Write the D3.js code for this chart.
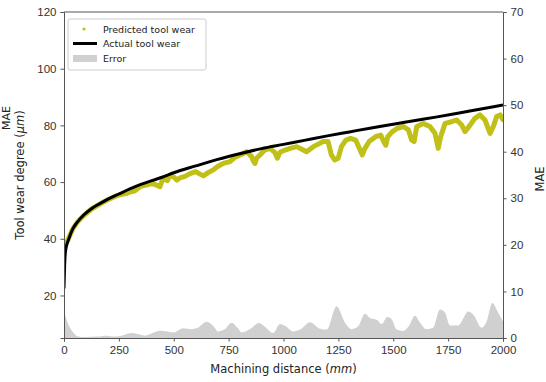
<!DOCTYPE html>
<html>
<head>
<meta charset="utf-8">
<script src="https://cdn.jsdelivr.net/npm/d3@7"></script>
<style>
  html, body { margin: 0; padding: 0; background: #fff; }
  svg { display: block; font-family: "DejaVu Sans", sans-serif; }
  .tick text { fill: #333; }
</style>
</head>
<body>
<svg id="chart" width="546" height="382"></svg>
<script>
// Actual tool wear (µm) against machining distance (mm)
const actualDist = [0, 3, 6, 10, 20, 40, 60, 90, 125, 165, 200, 250, 300, 350, 400, 450, 500,
  600, 700, 800, 900, 1000, 1100, 1200, 1300, 1400, 1500, 1600, 1700, 1800, 1900, 2000];
const actualWear = [22.5, 31, 35, 37, 39.6, 43.5, 45.8, 48.4, 50.6, 52.5, 54, 55.8, 57.6, 59.2, 60.5, 61.8, 63.3,
  65.7, 68, 70, 71.8, 73.3, 74.8, 76.3, 77.7, 79.1, 80.4, 81.7, 83, 84.4, 85.8, 87.2];

// Predicted tool wear (µm)
const predDist = [0, 5, 10, 20, 40, 60, 90, 125, 165, 200, 240, 270, 285, 300, 320, 350, 378, 400, 420, 437,
  451, 470, 483, 500, 515, 528, 551, 574, 600, 620, 635, 660, 680, 700, 726, 756, 780, 802, 820, 832,
  855, 862, 870, 878, 893, 915, 938, 960, 972, 984, 1007, 1030, 1060, 1090, 1105, 1136, 1181, 1203, 1218, 1233,
  1249, 1264, 1284, 1306, 1329, 1345, 1359, 1371, 1390, 1420, 1443, 1455, 1466, 1475, 1496, 1519, 1546, 1569, 1584, 1595,
  1607, 1637, 1667, 1690, 1705, 1716, 1736, 1766, 1789, 1812, 1827, 1850, 1872, 1895, 1918, 1941, 1956, 1971, 1987, 2000];
const predWear = [37.5, 38, 38.5, 40, 43.5, 45.8, 48.2, 50.5, 52.3, 53.8, 55.2, 55.8, 56, 56.5, 56.8, 58.5, 59, 59.5, 59, 58.4,
  61.3, 60.5, 62.3, 61.8, 60.7, 61.5, 62, 63, 63.7, 62.8, 62.2, 63.5, 64.3, 65.5, 66.6, 67.2, 68.8, 69.6, 70.2, 70.7,
  69, 67.5, 66.6, 68.5, 69.6, 71.3, 71.9, 70.5, 68.4, 70.5, 71.3, 71.9, 72.5, 71.3, 70.7, 72.5, 74.3, 74.3, 69.6, 67.8,
  68.4, 72.5, 74.8, 75.4, 74.8, 72, 69.6, 71.9, 74.3, 76, 76.6, 74.5, 73, 76, 77.8, 79, 79.6, 78.4, 74.8, 74.3,
  79.6, 80.7, 79.6, 77.2, 71.9, 76, 80.7, 81.3, 81.9, 80.1, 77.8, 80.1, 82.5, 83.7, 81.9, 77.2, 79.6, 83.1, 83.7, 82];

// Error (MAE) along machining distance
const errDist = [0, 5, 15, 30, 45, 60, 100, 150, 194, 230, 270, 308, 340, 370, 400, 437, 470, 500, 543, 580,
  610, 650, 680, 703, 730, 764, 790, 810, 850, 888, 920, 953, 984, 1010, 1044, 1075, 1121, 1166, 1197, 1242,
  1280, 1311, 1340, 1371, 1394, 1425, 1447, 1473, 1493, 1515, 1545, 1570, 1599, 1622, 1652, 1682, 1713, 1736, 1758, 1796,
  1842, 1865, 1903, 1926, 1951, 1978, 2000];
const errMAE = [5.7, 5, 3.5, 2, 1, 0.4, 0.2, 0.3, 0.5, 0.3, 0.6, 1.07, 0.8, 0.5, 1.0, 1.57, 1.4, 1.2, 2.1, 1.9,
  2.2, 3.5, 2.6, 1.4, 1.8, 3.3, 2.2, 1.2, 2.0, 3.2, 2.2, 1.07, 3.0, 2.5, 1.4, 1.8, 3.4, 2.0, 1.8, 6.8,
  3.3, 1.9, 2.5, 5.2, 4.3, 3.9, 3.0, 4.5, 4.0, 1.8, 1.5, 2.5, 4.8, 3.3, 1.9, 2.2, 6.1, 5.4, 2.7, 2.7,
  5.7, 5.0, 2.2, 3.6, 7.5, 5.4, 3.5];

const xTicks = [0, 250, 500, 750, 1000, 1250, 1500, 1750, 2000];
const yLeftTicks = [20, 40, 60, 80, 100, 120];
const yRightTicks = [0, 10, 20, 30, 40, 50, 60, 70];

const legendLabels = ["Predicted tool wear", "Actual tool wear", "Error"];

const svg = d3.select("#chart");
const m = { left: 64, right: 503, top: 12, bottom: 338 };

const x = d3.scaleLinear().domain([0, 2000]).range([m.left, m.right]);
const yL = d3.scaleLinear().domain([5, 120]).range([m.bottom, m.top]);
const yR = d3.scaleLinear().domain([0, 70]).range([m.bottom, m.top]);

svg.append("defs").append("clipPath").attr("id", "plot")
  .append("rect").attr("x", m.left).attr("y", m.top)
  .attr("width", m.right - m.left).attr("height", m.bottom - m.top);

const plot = svg.append("g").attr("clip-path", "url(#plot)");

// Error area on the right-hand (MAE) axis
const err = errDist.map((d, i) => [d, errMAE[i]]);
plot.append("path")
  .datum(err)
  .attr("fill", "#d0d0d0")
  .attr("d", d3.area().curve(d3.curveMonotoneX)
    .x(d => x(d[0])).y0(yR(0)).y1(d => yR(d[1])));

// Predicted wear
const pred = predDist.map((d, i) => [d, predWear[i]]);
plot.append("path")
  .datum(pred)
  .attr("fill", "none")
  .attr("stroke", "#c0c018")
  .attr("stroke-width", 5)
  .attr("stroke-linejoin", "round")
  .attr("stroke-linecap", "round")
  .attr("d", d3.line().x(d => x(d[0])).y(d => yL(d[1])));

// Actual wear
const act = actualDist.map((d, i) => [d, actualWear[i]]);
plot.append("path")
  .datum(act)
  .attr("fill", "none")
  .attr("stroke", "#000")
  .attr("stroke-width", 3)
  .attr("stroke-linejoin", "round")
  .attr("d", d3.line().curve(d3.curveMonotoneX).x(d => x(d[0])).y(d => yL(d[1])));

// Axes
const fs = "11.5px";
function styleAxis(g) {
  g.selectAll(".domain").attr("stroke", "#555");
  g.selectAll(".tick line").attr("stroke", "#555");
  g.selectAll(".tick text").style("font-size", fs);
}
svg.append("g").attr("transform", `translate(0,${m.bottom})`)
  .call(d3.axisBottom(x).tickValues(xTicks).tickFormat(d3.format("d")).tickSizeOuter(0).tickSize(3.5).tickPadding(4))
  .call(styleAxis);
svg.append("g").attr("transform", `translate(${m.left},0)`)
  .call(d3.axisLeft(yL).tickValues(yLeftTicks).tickSizeOuter(0).tickSize(3.5).tickPadding(4))
  .call(styleAxis);
svg.append("g").attr("transform", `translate(${m.right},0)`)
  .call(d3.axisRight(yR).tickValues(yRightTicks).tickSizeOuter(0).tickSize(3.5).tickPadding(4))
  .call(styleAxis);
svg.append("line").attr("x1", m.left).attr("x2", m.right).attr("y1", m.top).attr("y2", m.top)
  .attr("stroke", "#555");

// Axis titles
const xt = svg.append("text").attr("x", (m.left + m.right) / 2).attr("y", 373)
  .attr("text-anchor", "middle").style("font-size", "11.5px").attr("fill", "#222");
xt.append("tspan").text("Machining distance (");
xt.append("tspan").attr("font-style", "italic").text("mm");
xt.append("tspan").text(")");

const yt = svg.append("text").attr("transform", `translate(24,${(m.top + m.bottom) / 2}) rotate(-90)`)
  .attr("text-anchor", "middle").style("font-size", "11.5px").attr("fill", "#222");
yt.append("tspan").text("Tool wear degree (");
yt.append("tspan").attr("font-style", "italic").text("µm");
yt.append("tspan").text(")");

svg.append("text").attr("transform", `translate(10,118) rotate(-90)`)
  .attr("text-anchor", "middle").style("font-size", "11px").attr("fill", "#222").text("MAE");

svg.append("text").attr("transform", `translate(544,${(m.top + m.bottom) / 2 + 4}) rotate(-90)`)
  .attr("text-anchor", "middle").style("font-size", "11.5px").attr("fill", "#222").text("MAE");

// Legend
const lg = svg.append("g").attr("transform", "translate(68,19)");
lg.append("rect").attr("width", 138).attr("height", 51).attr("rx", 2)
  .attr("fill", "#fff").attr("fill-opacity", 0.85).attr("stroke", "#ccc");
const rowY = [10, 24.5, 39.5];
lg.append("circle").attr("cx", 16).attr("cy", rowY[0]).attr("r", 1.6).attr("fill", "#c0c018");
lg.append("line").attr("x1", 5).attr("x2", 29).attr("y1", rowY[1]).attr("y2", rowY[1])
  .attr("stroke", "#000").attr("stroke-width", 3);
lg.append("rect").attr("x", 5).attr("y", rowY[2] - 3.5).attr("width", 24).attr("height", 7).attr("fill", "#d0d0d0");
legendLabels.forEach((t, i) => {
  lg.append("text").attr("x", 35).attr("y", rowY[i] + 3.5).style("font-size", "9.5px").attr("fill", "#222").text(t);
});
</script>
</body>
</html>
